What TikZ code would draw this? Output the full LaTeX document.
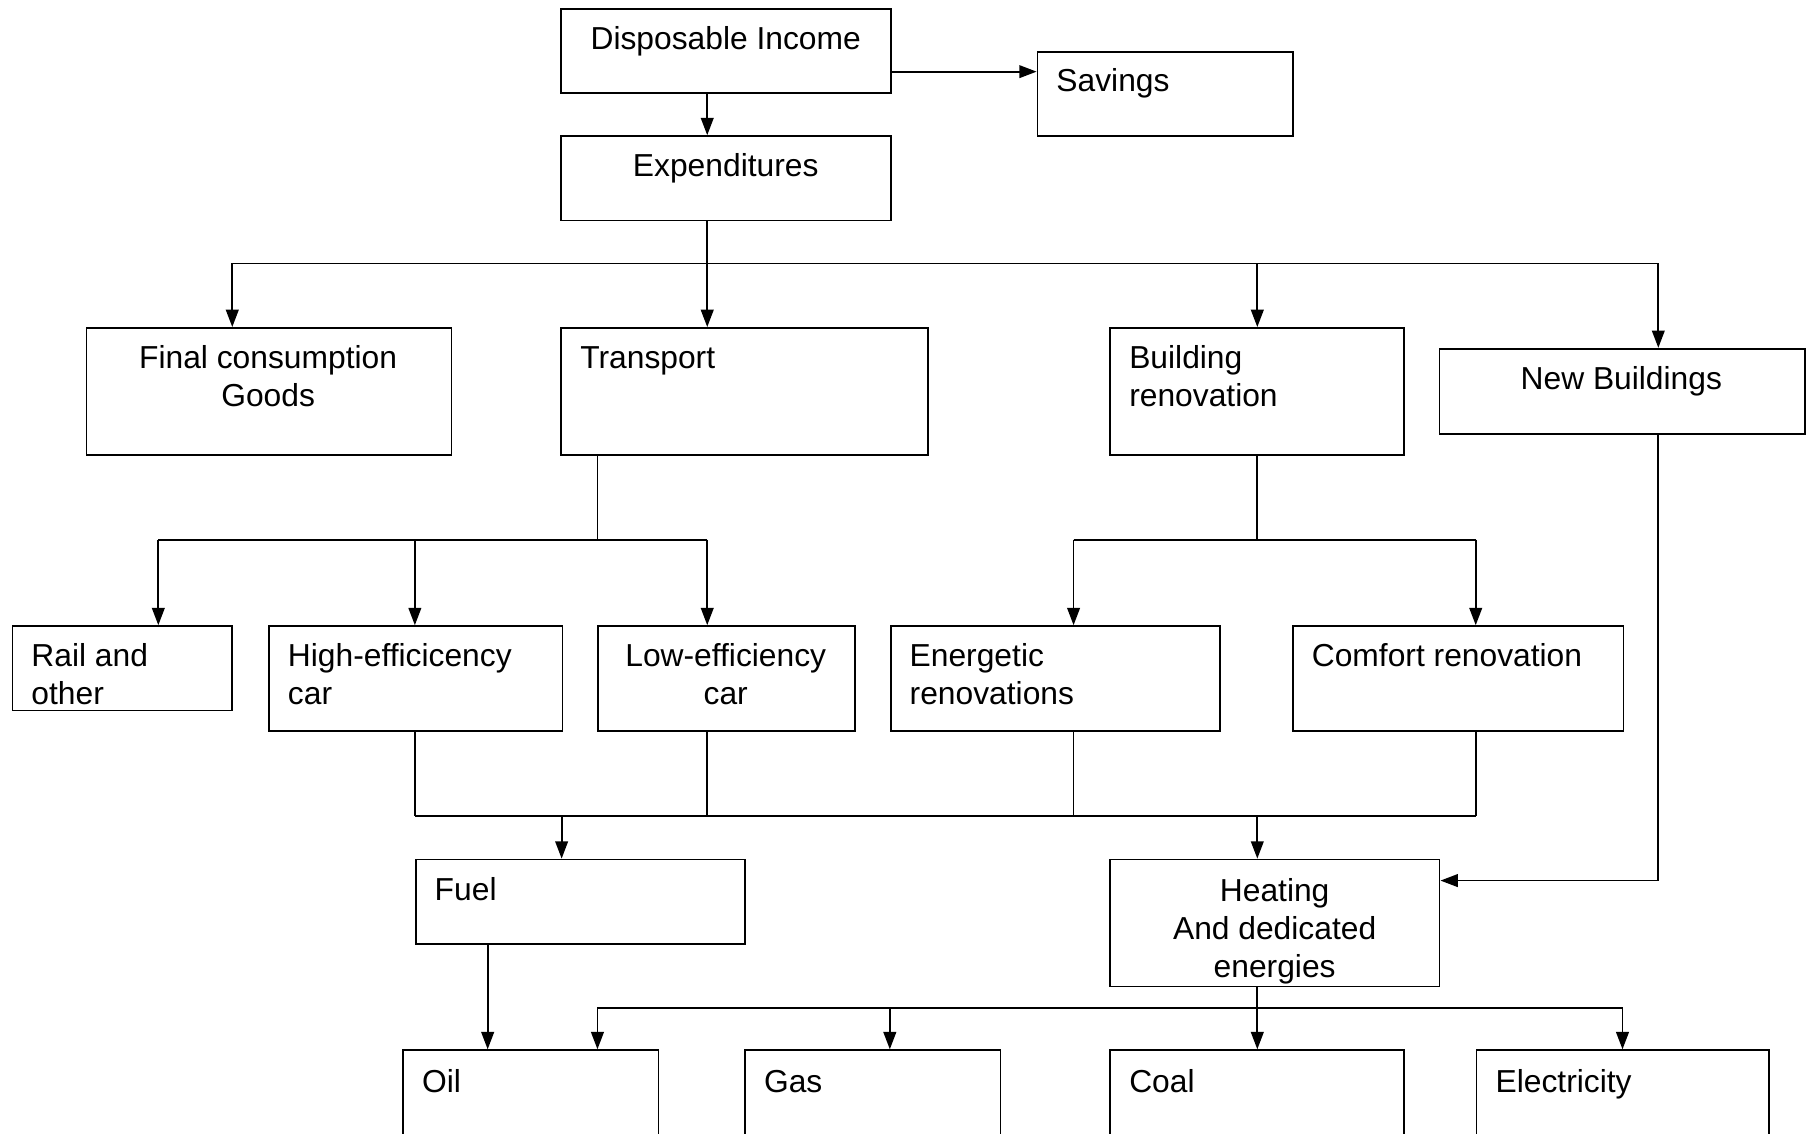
\documentclass[tikz,border=0pt]{standalone}
\usepackage{fontspec}
\setmainfont{Liberation Sans}
\usetikzlibrary{arrows.meta}
\begin{document}
\begin{tikzpicture}[x=1pt,y=-1pt,
  box/.style={draw,line width=1.5pt,minimum width=#1,inner sep=0pt,anchor=north west},
  lbl/.style={inner sep=0pt,font=\fontsize{27.5}{33}\selectfont,align=left},
  clbl/.style={inner sep=0pt,font=\fontsize{27.5}{33}\selectfont,align=center},
  ln/.style={line width=1.5pt},
  arr/.style={line width=1.5pt,-{Triangle[length=15pt,width=11pt]}}]
\useasboundingbox (0,0) rectangle (1568,981);
\begin{scope}
\clip (0,0) rectangle (1568,981);
% boxes
\node[box=285pt,minimum height=73pt] (di) at (485,7) {};
\node[box=221pt,minimum height=73pt] (sav) at (897,44) {};
\node[box=285pt,minimum height=73pt] (exp) at (485,117) {};
\node[box=316pt,minimum height=110pt] (fcg) at (74,283) {};
\node[box=317pt,minimum height=110pt] (tr) at (485,283) {};
\node[box=254pt,minimum height=110pt] (br) at (960,283) {};
\node[box=316pt,minimum height=74pt] (nb) at (1245,301) {};
\node[box=190pt,minimum height=73pt] (rail) at (10,541) {};
\node[box=254pt,minimum height=91pt] (hec) at (232,541) {};
\node[box=222pt,minimum height=91pt] (lec) at (517,541) {};
\node[box=285pt,minimum height=91pt] (en) at (770,541) {};
\node[box=286pt,minimum height=91pt] (cr) at (1118,541) {};
\node[box=285pt,minimum height=73pt] (fuel) at (359,743) {};
\node[box=285pt,minimum height=110pt] (heat) at (960,743) {};
\node[box=221pt,minimum height=120pt] (oil) at (348,908) {};
\node[box=221pt,minimum height=120pt] (gas) at (644,908) {};
\node[box=254pt,minimum height=120pt] (coal) at (960,908) {};
\node[box=253pt,minimum height=120pt] (elec) at (1277,908) {};
\end{scope}
% texts (base anchor = baseline of last line)
\node[clbl,anchor=base] (tdi) at (628,43) {Disposable Income};
\node[lbl,anchor=base west] (tsav) at (914,79) {Savings};
\node[clbl,anchor=base] (texp) at (628,153) {Expenditures};
\node[clbl,anchor=base] (tfcg) at (232,352) {Final consumption\\Goods};
\node[lbl,anchor=base west] (ttr) at (502,319) {Transport};
\node[lbl,anchor=base west] (tbr) at (977,352) {Building\\renovation};
\node[clbl,anchor=base] (tnb) at (1403,337) {New Buildings};
\node[lbl,anchor=base west] (trail) at (27,610) {Rail and\\other};
\node[lbl,anchor=base west] (thec) at (249,610) {High-efficicency\\car};
\node[clbl,anchor=base] (tlec) at (628,610) {Low-efficiency\\car};
\node[lbl,anchor=base west] (ten) at (787,610) {Energetic\\renovations};
\node[lbl,anchor=base west] (tcr) at (1135,577) {Comfort renovation};
\node[lbl,anchor=base west] (tfuel) at (376,779) {Fuel};
\node[clbl,anchor=base] (theat) at (1103,846) {Heating\\And dedicated\\energies};
\node[lbl,anchor=base west] (toil) at (365,945) {Oil};
\node[lbl,anchor=base west] (tgas) at (661,945) {Gas};
\node[lbl,anchor=base west] (tcoal) at (977,945) {Coal};
\node[lbl,anchor=base west] (telec) at (1294,945) {Electricity};
% connectors
\coordinate (e1) at (612,228);
\draw[arr] (di.south -| 612,0) -- (exp.north -| 612,0);
\draw[arr] (di.east |- 0,62) -- (sav.west |- 0,62);
\draw[ln] (exp.south -| e1) -- (e1);
\draw[ln] (201,228) -- (1435,228);
\draw[arr] (201,228) -- (fcg.north -| 201,0);
\draw[arr] (e1) -- (tr.north -| e1);
\draw[arr] (1088,228) -- (br.north -| 1088,0);
\draw[arr] (1435,228) -- (nb.north -| 1435,0);
% transport split
\draw[ln] (tr.south -| 517,0) -- (517,467);
\draw[ln] (137,467) -- (612,467);
\draw[arr] (137,467) -- (rail.north -| 137,0);
\draw[arr] (359,467) -- (hec.north -| 359,0);
\draw[arr] (612,467) -- (lec.north -| 612,0);
% building renovation split
\draw[ln] (br.south -| 1088,0) -- (1088,467);
\draw[ln] (929,467) -- (1277,467);
\draw[arr] (929,467) -- (en.north -| 929,0);
\draw[arr] (1277,467) -- (cr.north -| 1277,0);
% merge
\draw[ln] (hec.south -| 359,0) -- (359,706);
\draw[ln] (lec.south -| 612,0) -- (612,706);
\draw[ln] (en.south -| 929,0) -- (929,706);
\draw[ln] (cr.south -| 1277,0) -- (1277,706);
\draw[ln] (359,706) -- (1277,706);
\draw[arr] (486,706) -- (fuel.north -| 486,0);
\draw[arr] (1088,706) -- (heat.north -| 1088,0);
% new buildings to heating
\draw[arr] (nb.south -| 1435,0) -- (1435,762) -- (heat.east |- 0,762);
% fuel to oil
\draw[arr] (fuel.south -| 422,0) -- (oil.north -| 422,0);
% heating split
\draw[ln] (heat.south -| 1088,0) -- (1088,872);
\draw[ln] (517,872) -- (1404,872);
\draw[arr] (517,872) -- (oil.north -| 517,0);
\draw[arr] (770,872) -- (gas.north -| 770,0);
\draw[arr] (1088,872) -- (coal.north -| 1088,0);
\draw[arr] (1404,872) -- (elec.north -| 1404,0);
\end{tikzpicture}
\end{document}
